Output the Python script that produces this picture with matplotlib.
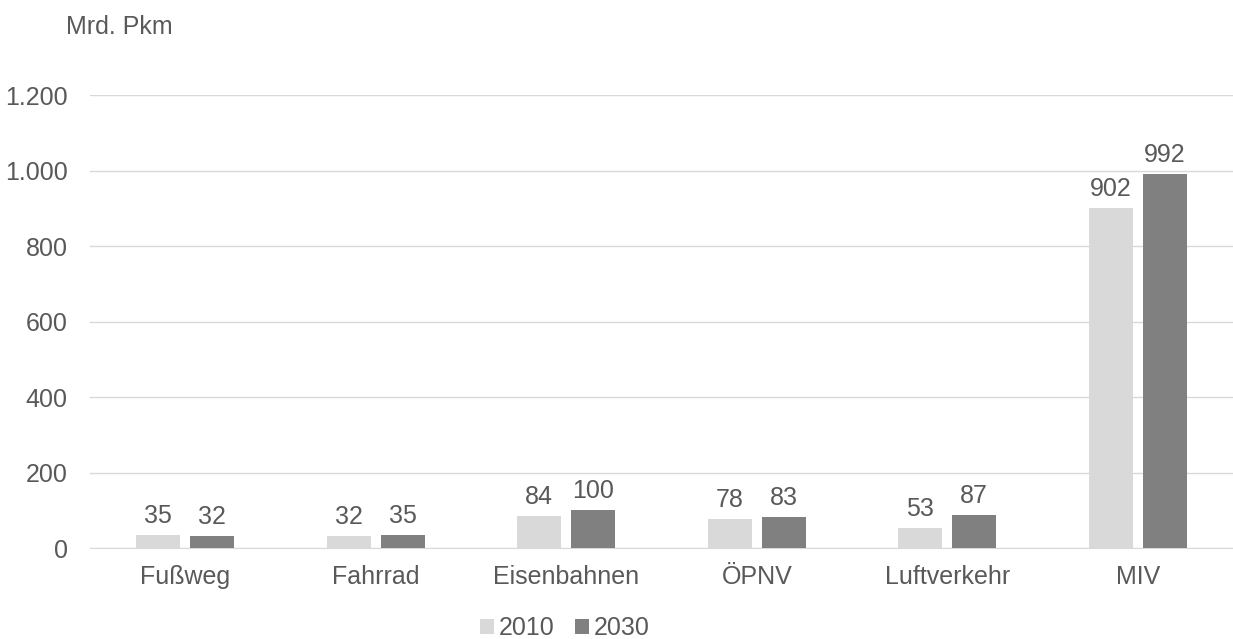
import matplotlib.pyplot as plt
from matplotlib.ticker import FuncFormatter, MultipleLocator
import numpy as np

kategorien = ["Fußweg", "Fahrrad", "Eisenbahnen", "ÖPNV", "Luftverkehr", "MIV"]
werte_2010 = [35, 32, 84, 78, 53, 902]
werte_2030 = [32, 35, 100, 83, 87, 992]
jahre = ["2010", "2030"]

plt.rcParams['font.family'] = ['Liberation Sans', 'DejaVu Sans']
textfarbe = '#595959'
gr = 18

fig = plt.figure(figsize=(12.33, 6.39), dpi=100)
ax = fig.add_axes([0.073, 0.1424, 0.927, 0.7087])

x = np.arange(len(kategorien))
breite = 0.23
versatz = 0.142

b1 = ax.bar(x - versatz, werte_2010, breite, color='#d9d9d9', label=jahre[0], zorder=3)
b2 = ax.bar(x + versatz, werte_2030, breite, color='#808080', label=jahre[1], zorder=3)

for b in (b1, b2):
    ax.bar_label(b, padding=5, fontsize=gr, color=textfarbe)

ax.set_xlim(-0.5, len(kategorien) - 0.5)
ax.set_ylim(0, 1200)
ax.yaxis.set_major_locator(MultipleLocator(200))
ax.yaxis.set_major_formatter(FuncFormatter(lambda v, p: f"{int(v):,}".replace(",", ".")))
ax.set_xticks(x)
ax.set_xticklabels(kategorien)

ax.grid(axis='y', color='#d9d9d9', linewidth=1, zorder=0)
for s in ['top', 'right', 'left']:
    ax.spines[s].set_visible(False)
ax.spines['bottom'].set_color('#d9d9d9')
ax.tick_params(axis='both', length=0, labelsize=gr, labelcolor=textfarbe)
ax.tick_params(axis='x', pad=12)
ax.tick_params(axis='y', pad=16)

fig.text(66 / 1233, 1 - 27 / 639, "Mrd. Pkm", fontsize=gr, color=textfarbe, va='center', ha='left')

fig.legend(loc='center', bbox_to_anchor=(565 / 1233, 1 - 628 / 639), ncol=2, frameon=False,
           fontsize=gr, labelcolor=textfarbe, handlelength=0.55, handleheight=0.55,
           handletextpad=0.2, columnspacing=0.8)

fig.savefig("out.png", dpi=100)
